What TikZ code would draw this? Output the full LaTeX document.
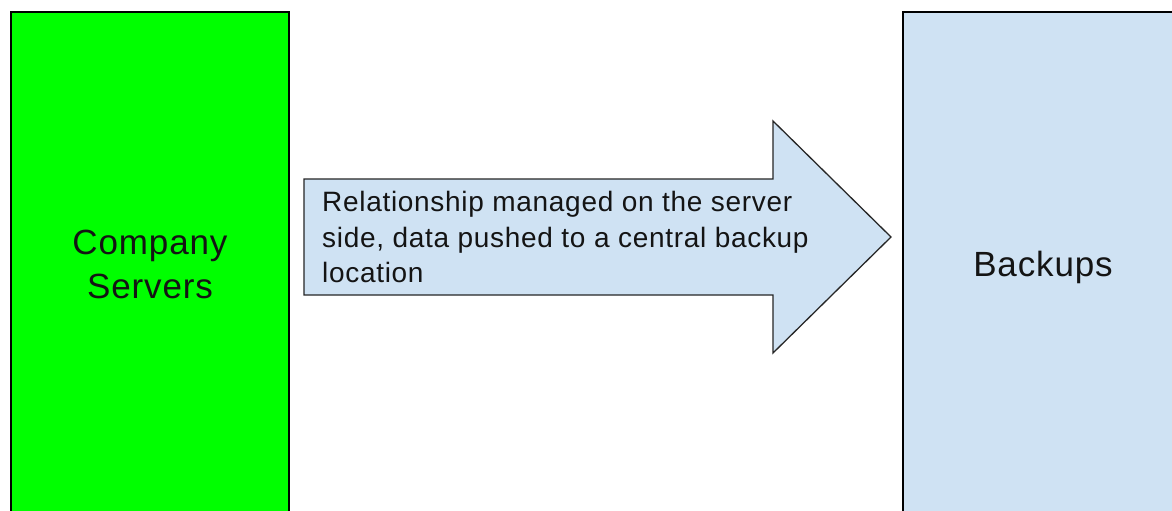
\documentclass[tikz,border=0pt]{standalone}
\usepackage{fontspec}
\setmainfont{Liberation Sans}
\newfontfamily\labfont[LetterSpace=2.5]{Liberation Sans}
\definecolor{srvgreen}{HTML}{00FF00}
\definecolor{bkblue}{HTML}{CFE2F3}
\definecolor{inkc}{HTML}{141414}
\tikzset{
  box/.style={draw=black, line width=1.3pt, rectangle, inner sep=0pt, align=center, text=inkc},
  bigtext/.style={font=\labfont\fontsize{35}{44}\selectfont},
  arrowshape/.style={draw=black!85, line width=1.3pt, fill=bkblue, line join=miter},
  arrowtext/.style={font=\labfont\fontsize{28}{35.5}\selectfont, align=left, inner sep=0pt, anchor=north west, text=inkc}
}
\begin{document}
\begin{tikzpicture}[x=1pt,y=-1pt]
\useasboundingbox (0,0) rectangle (1172,511);
\clip (0,0) rectangle (1172,511);
\fill[white] (0,0) rectangle (1172,511);
\node[box, bigtext, fill=srvgreen, minimum width=278pt, minimum height=505pt] (servers) at (150,264.5) {Company\\Servers};
\node[box, bigtext, fill=bkblue, minimum width=280pt, minimum height=511pt] (backups) at (1043,267.5) {Backups};
\coordinate (a1) at (304,179);
\coordinate (a2) at (773,179);
\coordinate (a3) at (773,121);
\coordinate (tip) at (891,237);
\coordinate (a5) at (773,353);
\coordinate (a6) at (773,295);
\coordinate (a7) at (304,295);
\draw[arrowshape] (a1) -- (a2) -- (a3) -- (tip) -- (a5) -- (a6) -- (a7) -- cycle;
\node[arrowtext] (label) at (322,191.5) {Relationship managed on the server\\side, data pushed to a central backup\\location};
\end{tikzpicture}
\end{document}
